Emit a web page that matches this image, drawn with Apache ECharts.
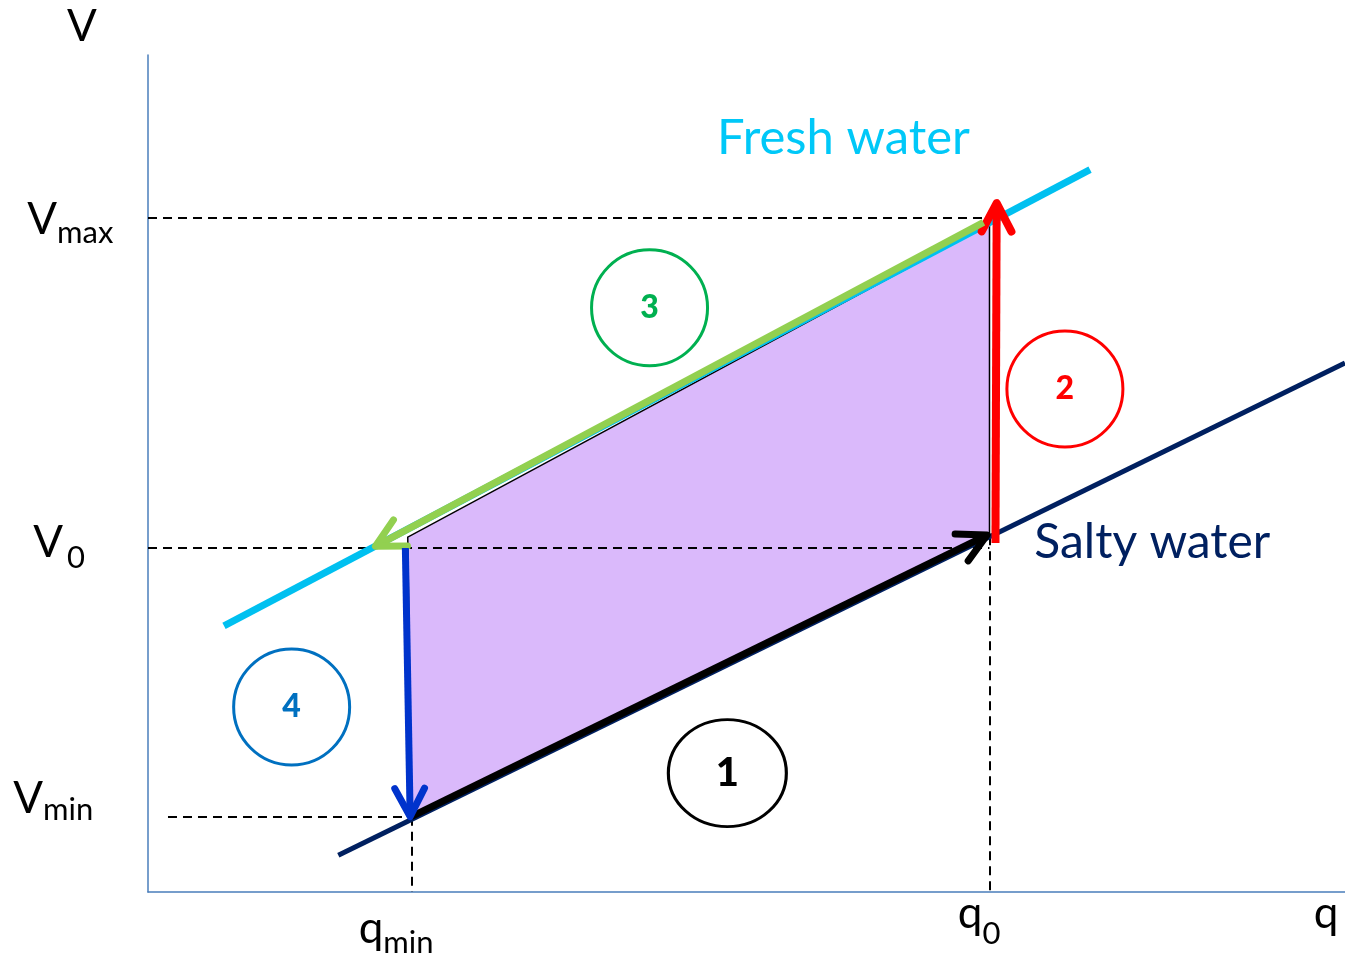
<!DOCTYPE html>
<html>
<head>
<meta charset="utf-8">
<script src="https://cdn.jsdelivr.net/npm/echarts@6/dist/echarts.min.js"></script>
<style>
  html, body { margin: 0; padding: 0; background: #fff; }
  #cycle { width: 1345px; height: 962px; }
</style>
</head>
<body>
<div id="cycle"></div>
<script>
// values (q and V in arbitrary units, axes 0..100)
const qMin = 22.0, q0 = 70.3;
const vMax = 80.5, v0 = 41.1, vMin = 9.0;

const freshLine = [[6.35, 31.8], [78.7, 86.3]];
const saltyLine = [[15.9, 4.4], [100, 63.2]];
const cyclePath = [[22.0, 9.0], [70.3, 42.5], [70.3, 79.8], [21.7, 42.4]];

// arrows: [x1, y1, x2, y2]
const arrow1 = [22.0, 9.0, 70.1, 42.65];
const arrow2 = [70.8, 41.7, 70.9, 82.3];
const arrow3 = [69.8, 80.0, 19.0, 41.3];
const arrow4 = [21.5, 41.1, 21.9, 9.0];

const guides = [
  [[0, vMax], [69.9, vMax]],
  [[0, v0], [q0, v0]],
  [[1.67, vMin], [qMin, vMin]],
  [[qMin, vMin], [qMin, 0]],
  [[q0, 42.5], [q0, 0]]
];

const stepNames = ['1', '2', '3', '4'];
const stepPoints = [[48.4, 14.2], [76.6, 60.1], [41.9, 69.8], [12.0, 22.1]];

const vTicks = [['V', 'max', vMax], ['V', '0', v0], ['V', 'min', vMin]];
const qTicks = [['q', 'min', qMin], ['q', '0', q0]];

// ---- styles / layout ----
const FONT = 'Lato';
const stepColors = ['#000000', '#FF0000', '#00B050', '#0070C0'];
const stepSizes = [[118, 107], [116, 116], [116, 116], [116, 116]];
const stepFont = [40, 32, 32, 32];
// [main dx, main dy, sub dx, sub dy] in pixels
const vTickOffsets = [[-91, 2, -91, 15], [-85, -5, -81, 10], [-105, -18, -105, -6.5]];
const qTickOffsets = [[-28, 37, -28, 51], [-7, 22, -7, 42]];

function arrowSeries(vals, color, width) {
  return {
    type: 'custom',
    coordinateSystem: 'cartesian2d',
    silent: true,
    data: [vals],
    encode: { x: [0, 2], y: [1, 3] },
    renderItem: function (params, api) {
      const a = api.coord([api.value(0), api.value(1)]);
      const b = api.coord([api.value(2), api.value(3)]);
      const ang = Math.atan2(b[1] - a[1], b[0] - a[0]);
      const L = 32, sp = Math.PI / 6.5;
      const w1 = [b[0] - L * Math.cos(ang - sp), b[1] - L * Math.sin(ang - sp)];
      const w2 = [b[0] - L * Math.cos(ang + sp), b[1] - L * Math.sin(ang + sp)];
      return {
        type: 'group',
        children: [
          { type: 'line', shape: { x1: a[0], y1: a[1], x2: b[0], y2: b[1] },
            style: { stroke: color, lineWidth: width, lineCap: 'butt' } },
          { type: 'polyline', shape: { points: [w1, b, w2] },
            style: { stroke: color, lineWidth: width, lineCap: 'round', lineJoin: 'round', fill: null } }
        ]
      };
    }
  };
}

function textItem(x, y, text, opts) {
  return {
    value: [x, y],
    label: Object.assign({
      show: true, position: 'inside', formatter: text,
      fontFamily: FONT, color: '#000', opacity: 1
    }, opts)
  };
}

const texts = [];
vTicks.forEach(function (t, i) {
  const o = vTickOffsets[i];
  texts.push(textItem(0, t[2], t[0], { fontSize: 44, align: 'right', verticalAlign: 'middle', offset: [o[0], o[1]] }));
  texts.push(textItem(0, t[2], t[1], { fontSize: 31, align: 'left', verticalAlign: 'middle', offset: [o[2], o[3]] }));
});
qTicks.forEach(function (t, i) {
  const o = qTickOffsets[i];
  texts.push(textItem(t[2], 0, t[0], { fontSize: 44, align: 'right', verticalAlign: 'middle', offset: [o[0], o[1]] }));
  texts.push(textItem(t[2], 0, t[1], { fontSize: 31, align: 'left', verticalAlign: 'middle', offset: [o[2], o[3]] }));
});
texts.push(textItem(0, 100, 'V', { fontSize: 44, align: 'center', verticalAlign: 'middle', offset: [-66, -28] }));
texts.push(textItem(100, 0, 'q', { fontSize: 44, align: 'center', verticalAlign: 'middle', offset: [-19, 22] }));
texts.push(textItem(58.1, 90.1, 'Fresh water', { fontSize: 49, color: '#00C8F8', align: 'center', verticalAlign: 'middle' }));
texts.push(textItem(83.9, 41.8, 'Salty water', { fontSize: 48, color: '#002060', align: 'center', verticalAlign: 'middle' }));

const chart = echarts.init(document.getElementById('cycle'));

const option = {
  animation: false,
  backgroundColor: '#fff',
  grid: { left: 148, right: 0, top: 55, bottom: 70 },
  xAxis: {
    type: 'value', min: 0, max: 100,
    axisLine: { show: true, lineStyle: { color: '#4A7EBB', width: 1.5 } },
    axisTick: { show: false }, axisLabel: { show: false }, splitLine: { show: false }
  },
  yAxis: {
    type: 'value', min: 0, max: 100,
    axisLine: { show: true, lineStyle: { color: '#4A7EBB', width: 1.5 } },
    axisTick: { show: false }, axisLabel: { show: false }, splitLine: { show: false }
  },
  series: [
    {
      type: 'custom',
      coordinateSystem: 'cartesian2d',
      silent: true,
      data: [cyclePath[0]],
      renderItem: function (params, api) {
        return {
          type: 'polygon',
          shape: { points: cyclePath.map(function (p) { return api.coord(p); }) },
          style: { fill: '#DAB9FB', stroke: '#000', lineWidth: 1.5 }
        };
      }
    },
    {
      type: 'lines',
      coordinateSystem: 'cartesian2d',
      silent: true,
      data: guides.map(function (g) { return { coords: g }; }),
      lineStyle: { color: '#000', width: 2, type: [9, 6], opacity: 1 }
    },
    {
      type: 'lines',
      coordinateSystem: 'cartesian2d',
      silent: true,
      data: [{ coords: freshLine }],
      lineStyle: { color: '#00C0F0', width: 7, opacity: 1 }
    },
    {
      type: 'lines',
      coordinateSystem: 'cartesian2d',
      silent: true,
      data: [{ coords: saltyLine }],
      lineStyle: { color: '#002060', width: 5, opacity: 1 }
    },
    arrowSeries(arrow1, '#000000', 7),
    arrowSeries(arrow2, '#FF0000', 8),
    arrowSeries(arrow3, '#92D050', 7),
    arrowSeries(arrow4, '#0033CC', 7),
    {
      type: 'scatter',
      silent: true,
      clip: false,
      data: stepPoints.map(function (p, i) {
        return {
          value: p,
          symbolSize: stepSizes[i],
          itemStyle: { color: 'rgba(0,0,0,0)', borderColor: stepColors[i], borderWidth: 3, opacity: 1 },
          label: {
            show: true, position: 'inside', formatter: stepNames[i], opacity: 1,
            fontFamily: FONT, fontWeight: 900, fontSize: stepFont[i], color: stepColors[i]
          }
        };
      })
    },
    {
      type: 'scatter',
      silent: true,
      clip: false,
      symbolSize: 1,
      itemStyle: { color: 'rgba(0,0,0,0)', opacity: 1 },
      data: texts
    }
  ]
};

chart.setOption(option);
</script>
</body>
</html>
